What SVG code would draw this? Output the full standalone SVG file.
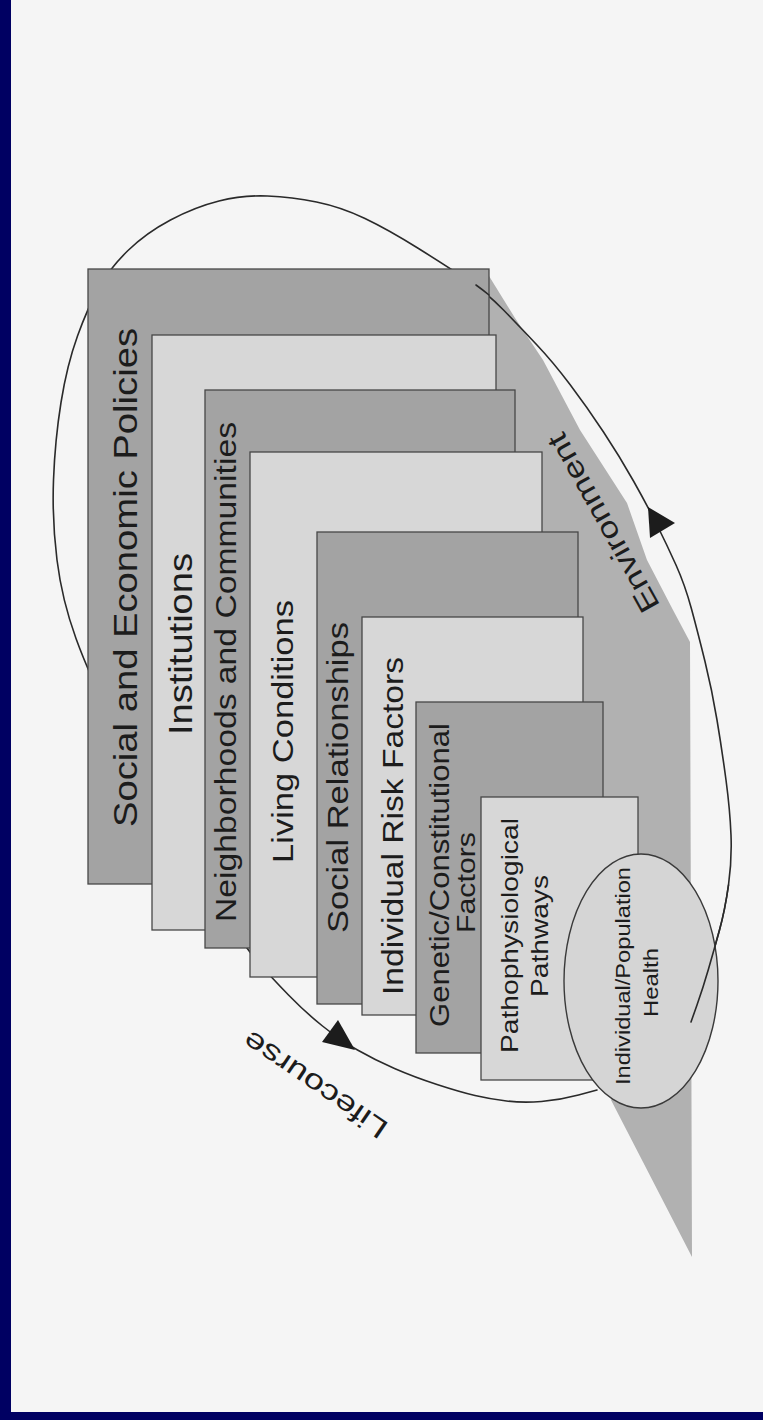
<svg xmlns="http://www.w3.org/2000/svg" width="763" height="1420" viewBox="0 0 763 1420">
  <defs>
    <style>
      .dark { fill: #a3a3a3; stroke: #474747; stroke-width: 1.3; }
      .light { fill: #d7d7d7; stroke: #474747; stroke-width: 1.3; }
      .lbl { font-family: "Liberation Sans", Arial, sans-serif; fill: #1c1c1c; text-anchor: middle; }
      .loop { fill: none; stroke: #2a2a2a; stroke-width: 1.6; stroke-linecap: round; }
      .head { fill: #1c1c1c; }
    </style>
  </defs>

  <!-- page and frame -->
  <rect width="763" height="1420" fill="#f5f5f5"/>
  <rect x="0" y="0" width="11" height="1420" fill="#000062"/>
  <rect x="0" y="1412" width="763" height="8" fill="#000062"/>

  <!-- environment wedge behind the layers -->
  <g id="environment">
    <polygon points="489,276 515,318 543,360 580,430 627,503 647,560 673,610 690,642 692,1257 611,1100 630,1075 560,1000 480,700 480,276" fill="#b1b1b1"/>
  </g>

  <!-- lifecourse / environment loop (passes behind the layers) -->
  <g id="connectors">
    <path class="loop" d="M597,1090 L578.5,1095 Q560,1100 541.5,1101.5 Q523,1103 506.5,1101 Q490,1099 475,1095.5 Q460,1092 437,1084.5 Q414,1077 394.5,1068.5 Q375,1060 357.5,1050 Q340,1040 322.5,1026 Q305,1012 288.5,995 Q272,978 260,964.5 Q248,951 226.5,918 Q205,885 172.5,830 Q140,775 115,726 Q90,677 76,638.5 Q62,600 57,560 Q52,520 53.5,480 Q55,440 61,402.5 Q67,365 77.5,336 Q88,307 99,287.5 Q110,268 128,250.5 Q146,233 170.5,220 Q195,207 219,201 Q243,195 267.5,196 Q292,197 316.5,202 Q341,207 365,218.5 Q389,230 418.5,248.5 Q448,267 467.5,280 Q487,293 503.5,310 Q520,327 536.5,344.5 Q553,362 570,384.5 Q587,407 603.5,432 Q620,457 633.5,481 Q647,505 657,525 Q667,545 676,565 Q685,585 691.5,609 Q698,633 705,661.5 Q712,690 717,720 Q722,750 726,780 Q730,810 731,835 Q732,860 728.5,885 Q725,910 719.5,930 Q714,950 708.5,969 Q703,988 697,1005 L691,1022"/>
    <polygon class="head" points="648,507 675,523 650,538"/>
    <polygon class="head" points="355,1050 322,1042 338,1020"/>
    <text class="lbl" transform="translate(603,523) rotate(240.9)" dy="0.35em" font-size="29" textLength="200" lengthAdjust="spacingAndGlyphs">Environment</text>
    <text class="lbl" transform="translate(315,1085) rotate(214.3)" dy="0.35em" font-size="28" textLength="168" lengthAdjust="spacingAndGlyphs">Lifecourse</text>
  </g>

  <!-- stacked layers, outermost first -->
  <g id="social-economic-policies">
    <rect class="dark" x="88" y="269" width="401" height="615"/>
    <text class="lbl" transform="translate(137,577.5) rotate(-90)" font-size="33" textLength="499" lengthAdjust="spacingAndGlyphs">Social and Economic Policies</text>
  </g>
  <g id="institutions">
    <rect class="light" x="152" y="335" width="344" height="595"/>
    <text class="lbl" transform="translate(192,644) rotate(-90)" font-size="34" textLength="182" lengthAdjust="spacingAndGlyphs">Institutions</text>
  </g>
  <g id="neighborhoods-communities">
    <rect class="dark" x="205" y="390" width="310" height="558"/>
    <text class="lbl" transform="translate(236,672) rotate(-90)" font-size="29" textLength="500" lengthAdjust="spacingAndGlyphs">Neighborhoods and Communities</text>
  </g>
  <g id="living-conditions">
    <rect class="light" x="250" y="452" width="292" height="525"/>
    <text class="lbl" transform="translate(293,731.5) rotate(-90)" font-size="30" textLength="263" lengthAdjust="spacingAndGlyphs">Living Conditions</text>
  </g>
  <g id="social-relationships">
    <rect class="dark" x="317" y="532" width="261" height="472"/>
    <text class="lbl" transform="translate(348,777.5) rotate(-90)" font-size="30" textLength="311" lengthAdjust="spacingAndGlyphs">Social Relationships</text>
  </g>
  <g id="individual-risk-factors">
    <rect class="light" x="362" y="617" width="221" height="398"/>
    <text class="lbl" transform="translate(403,826) rotate(-90)" font-size="30" textLength="338" lengthAdjust="spacingAndGlyphs">Individual Risk Factors</text>
  </g>
  <g id="genetic-constitutional-factors">
    <rect class="dark" x="416" y="702" width="187" height="351"/>
    <text class="lbl" transform="translate(449,875) rotate(-90)" font-size="27" textLength="304" lengthAdjust="spacingAndGlyphs">Genetic/Constitutional</text>
    <text class="lbl" transform="translate(475,882.5) rotate(-90)" font-size="26" textLength="101" lengthAdjust="spacingAndGlyphs">Factors</text>
  </g>
  <g id="pathophysiological-pathways">
    <rect class="light" x="481" y="797" width="157" height="283"/>
    <text class="lbl" transform="translate(518,935.5) rotate(-90)" font-size="24.5" textLength="235" lengthAdjust="spacingAndGlyphs">Pathophysiological</text>
    <text class="lbl" transform="translate(548,936) rotate(-90)" font-size="24.5" textLength="122" lengthAdjust="spacingAndGlyphs">Pathways</text>
  </g>
  <g id="individual-population-health">
    <ellipse cx="641" cy="981" rx="77" ry="127" fill="#d5d5d5" stroke="#3a3a3a" stroke-width="1.4"/>
    <text class="lbl" transform="translate(630,976) rotate(-90)" font-size="20.5" textLength="218" lengthAdjust="spacingAndGlyphs">Individual/Population</text>
    <text class="lbl" transform="translate(658,982.5) rotate(-90)" font-size="20.5" textLength="69" lengthAdjust="spacingAndGlyphs">Health</text>
  </g>

  <!-- loop pieces that show over the layers: the corner of the outer layer and the tail inside the health ellipse -->
  <g id="connector-ends">
    <path class="loop" d="M476,285 Q483,290 489,295"/>
    <path class="loop" d="M728.5,885 Q725,910 719.5,930 Q714,950 708.5,969 Q703,988 697,1005 L691,1022"/>
  </g>
</svg>
